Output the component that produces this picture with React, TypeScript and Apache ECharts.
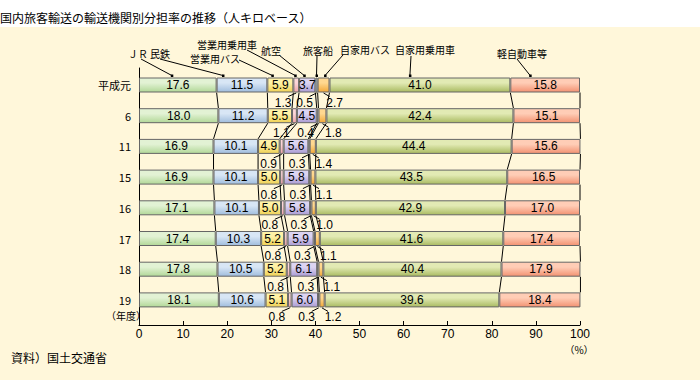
import React, { useEffect, useRef } from 'react';
import * as echarts from 'echarts';

const ROWS = ['平成元', '6', '11', '15', '16', '17', '18', '19'];
const SERIES_NAMES = ['ＪＲ', '民鉄', '営業用バス', '営業用乗用車', '航空', '旅客船', '自家用バス', '自家用乗用車', '軽自動車等'];
const JR = [17.6, 18.0, 16.9, 16.9, 17.1, 17.4, 17.8, 18.1];
const MINTETSU = [11.5, 11.2, 10.1, 10.1, 10.1, 10.3, 10.5, 10.6];
const EIGYO_BUS = [5.9, 5.5, 4.9, 5.0, 5.0, 5.2, 5.2, 5.1];
const EIGYO_CAR = [1.3, 1.1, 0.9, 0.8, 0.8, 0.8, 0.8, 0.8];
const KOKU = [3.7, 4.5, 5.6, 5.8, 5.8, 5.9, 6.1, 6.0];
const SENPAKU = [0.5, 0.4, 0.3, 0.3, 0.3, 0.3, 0.3, 0.3];
const JIKA_BUS = [2.7, 1.8, 1.4, 1.1, 1.0, 1.1, 1.1, 1.2];
const JIKA_CAR = [41.0, 42.4, 44.4, 43.5, 42.9, 41.6, 40.4, 39.6];
const KEI = [15.8, 15.1, 15.6, 16.5, 17.0, 17.4, 17.9, 18.4];
const X_TICKS = [0, 10, 20, 30, 40, 50, 60, 70, 80, 90, 100];

const VALUES = [JR, MINTETSU, EIGYO_BUS, EIGYO_CAR, KOKU, SENPAKU, JIKA_BUS, JIKA_CAR, KEI];

// styling
const COLORS: [string, string][] = [
  ['#e2f2d4', '#b2d898'],
  ['#d8e6f5', '#a0bddd'],
  ['#fff2a6', '#efd155'],
  ['#fcd6d8', '#f0a4aa'],
  ['#dcd4f2', '#ab9cd3'],
  ['#d4e6f0', '#a8c8dc'],
  ['#ffd890', '#f2a838'],
  ['#e2eab4', '#aabb62'],
  ['#ffcdb6', '#f29272'],
];
const OUTSIDE = [3, 5, 6];
const OUTSIDE_DX: Record<number, number> = { 3: -13, 5: -12, 6: 11 };
const INSIDE = [0, 1, 2, 4, 7, 8];
const BAR_W = 15;
const HALF = BAR_W / 2;
const FONT = '"Noto Sans CJK JP", "Noto Sans", sans-serif';
const NUM_FONT = '"Liberation Sans", Arial, sans-serif';

// callout layout (text position, line start, horizontal aim offset)
const CALLOUT_LAYOUT = [
  { k: 0, tx: 128, ty: 53, fx: 141, fy: 59, dx: -6 },
  { k: 1, tx: 150, ty: 53, fx: 160, fy: 59, dx: -19 },
  { k: 2, tx: 190, ty: 58, fx: 239, fy: 60, dx: -8 },
  { k: 3, tx: 197, ty: 44, fx: 247, fy: 50, dx: -1 },
  { k: 4, tx: 261, ty: 50, fx: 279, fy: 55, dx: -3 },
  { k: 5, tx: 303, ty: 50, fx: 317, fy: 56, dx: 0 },
  { k: 6, tx: 340, ty: 49, fx: 343, fy: 55, dx: 1.5 },
  { k: 7, tx: 395, ty: 49, fx: 411, fy: 56, dx: -10 },
  { k: 8, tx: 497, ty: 53, fx: 517, fy: 59, dx: -15 },
];

function cumulative(): number[][] {
  return ROWS.map((_, r) => {
    let s = 0;
    return VALUES.map((arr) => {
      s += arr[r];
      return s;
    });
  });
}

function buildOption() {
  const cum = cumulative();
  const segStart = (r: number, k: number) => (k === 0 ? 0 : cum[r][k - 1]);
  const segCenter = (r: number, k: number) => (segStart(r, k) + cum[r][k]) / 2;

  const barSeries = VALUES.map((arr, k) => ({
    name: SERIES_NAMES[k],
    type: 'bar',
    stack: 'total',
    xAxisIndex: 0,
    yAxisIndex: 0,
    barWidth: BAR_W,
    data: arr,
    itemStyle: {
      color: new echarts.graphic.LinearGradient(0, 0, 0, 1, [
        { offset: 0, color: COLORS[k][0] },
        { offset: 0.35, color: COLORS[k][0] },
        { offset: 1, color: COLORS[k][1] },
      ]),
      borderColor: '#666',
      borderWidth: 1,
    },
    label: INSIDE.includes(k)
      ? {
          show: true,
          position: 'inside',
          color: '#000',
          fontSize: 12,
          lineHeight: 12,
          fontFamily: NUM_FONT,
          formatter: (p: any) => Number(p.value).toFixed(1),
        }
      : { show: false },
    z: 2,
  }));

  const connectorData: number[][] = [];
  for (let r = 0; r < ROWS.length - 1; r++) {
    for (let k = 0; k < VALUES.length; k++) {
      connectorData.push([cum[r][k], r, cum[r + 1][k], r + 1]);
    }
  }

  const smallData: number[][] = [];
  for (let r = 0; r < ROWS.length; r++) {
    OUTSIDE.forEach((k) => smallData.push([segCenter(r, k), r, k, VALUES[k][r]]));
  }

  const calloutData = CALLOUT_LAYOUT.map((c, i) => [segCenter(0, c.k), 0, i]);

  return {
    animation: false,
    backgroundColor: '#fff7da',
    textStyle: { fontFamily: FONT },
    title: {
      text: '国内旅客輸送の輸送機関別分担率の推移（人キロベース）',
      left: 0,
      top: 11,
      padding: 0,
      textStyle: { fontSize: 12, fontWeight: 'normal', color: '#000', fontFamily: FONT },
    },
    graphic: [
      { type: 'rect', z: -10, silent: true, shape: { x: 0, y: 0, width: 700, height: 27 }, style: { fill: '#ffffff' } },
      { type: 'text', x: 106, y: 315, style: { text: '（年度）', fontSize: 10, fontFamily: FONT, fill: '#000', verticalAlign: 'middle' } },
      { type: 'text', x: 579, y: 349, style: { text: '（%）', fontSize: 10, fontFamily: FONT, fill: '#000', align: 'center', verticalAlign: 'middle' } },
      { type: 'text', x: 11, y: 357, style: { text: '資料）国土交通省', fontSize: 12, fontFamily: FONT, fill: '#000', verticalAlign: 'middle' } },
    ],
    grid: [
      { left: 139, right: 120, top: 69.65, height: 245.6 },
      { left: 139, right: 120, top: 68, height: 257 },
    ],
    xAxis: [
      { type: 'value', gridIndex: 0, min: 0, max: 100, show: false },
      {
        type: 'value',
        gridIndex: 1,
        min: 0,
        max: 100,
        interval: 10,
        axisLine: { show: true, onZero: false, lineStyle: { color: '#000', width: 1 } },
        axisTick: { show: true, inside: true, length: 4, lineStyle: { color: '#000' } },
        axisLabel: {
          color: '#000',
          fontSize: 12,
          lineHeight: 12,
          margin: 3,
          fontFamily: NUM_FONT,
          formatter: (v: number) => (X_TICKS.includes(v) ? String(v) : ''),
        },
        splitLine: { show: false },
      },
    ],
    yAxis: [
      {
        type: 'category',
        gridIndex: 0,
        inverse: true,
        data: ROWS,
        axisLine: { show: false },
        axisTick: { show: false },
        axisLabel: { color: '#000', fontSize: 11, margin: 8, fontFamily: FONT },
      },
      {
        type: 'value',
        gridIndex: 1,
        min: 0,
        max: 1,
        axisLine: { show: true, onZero: false, lineStyle: { color: '#000', width: 1 } },
        axisTick: { show: false },
        axisLabel: { show: false },
        splitLine: { show: false },
      },
    ],
    series: [
      ...barSeries,
      {
        type: 'custom',
        name: 'connectors',
        xAxisIndex: 0,
        yAxisIndex: 0,
        clip: false,
        silent: true,
        z: 3,
        data: connectorData,
        renderItem: (_p: any, api: any) => {
          const a = api.coord([api.value(0), api.value(1)]);
          const b = api.coord([api.value(2), api.value(3)]);
          return {
            type: 'line',
            shape: { x1: a[0], y1: a[1] + HALF, x2: b[0], y2: b[1] - HALF },
            style: { stroke: '#000', lineWidth: 1 },
          };
        },
      },
      {
        type: 'custom',
        name: 'smallLabels',
        xAxisIndex: 0,
        yAxisIndex: 0,
        clip: false,
        silent: true,
        z: 4,
        data: smallData,
        renderItem: (_p: any, api: any) => {
          const c = api.coord([api.value(0), api.value(1)]);
          const k = api.value(2);
          const v = api.value(3);
          const bottom = c[1] + HALF;
          const lx = c[0] + OUTSIDE_DX[k];
          const sx = lx + (c[0] > lx ? 5 : -5);
          return {
            type: 'group',
            children: [
              {
                type: 'line',
                shape: { x1: sx, y1: bottom + 4, x2: c[0], y2: bottom + 0.5 },
                style: { stroke: '#000', lineWidth: 1 },
              },
              {
                type: 'text',
                style: {
                  text: Number(v).toFixed(1),
                  x: lx,
                  y: bottom + 10,
                  align: 'center',
                  verticalAlign: 'middle',
                  fontSize: 12,
                  lineHeight: 12,
                  fontFamily: NUM_FONT,
                  fill: '#000',
                },
              },
            ],
          };
        },
      },
      {
        type: 'custom',
        name: 'callouts',
        xAxisIndex: 0,
        yAxisIndex: 0,
        clip: false,
        silent: true,
        z: 4,
        data: calloutData,
        renderItem: (_p: any, api: any) => {
          const c = api.coord([api.value(0), api.value(1)]);
          const L = CALLOUT_LAYOUT[api.value(2)];
          const ex = c[0] + L.dx;
          const ey = c[1] - HALF - 2;
          return {
            type: 'group',
            children: [
              {
                type: 'line',
                shape: { x1: L.fx, y1: L.fy, x2: ex, y2: ey },
                style: { stroke: '#000', lineWidth: 1 },
              },
              { type: 'rect', shape: { x: ex - 1, y: ey - 1, width: 2.5, height: 2.5 }, style: { fill: '#000' } },
              {
                type: 'text',
                style: {
                  text: SERIES_NAMES[L.k],
                  x: L.tx,
                  y: L.ty,
                  verticalAlign: 'middle',
                  fontSize: 10,
                  fontFamily: FONT,
                  fill: '#000',
                },
              },
            ],
          };
        },
      },
    ],
  };
}

export default function App() {
  const ref = useRef<HTMLDivElement>(null);
  useEffect(() => {
    if (!ref.current) return;
    const chart = echarts.init(ref.current, null, { renderer: 'svg' });
    chart.setOption(buildOption() as any);
    return () => chart.dispose();
  }, []);
  return <div ref={ref} style={{ position: 'fixed', left: 0, top: 0, width: 700, height: 380 }} />;
}
